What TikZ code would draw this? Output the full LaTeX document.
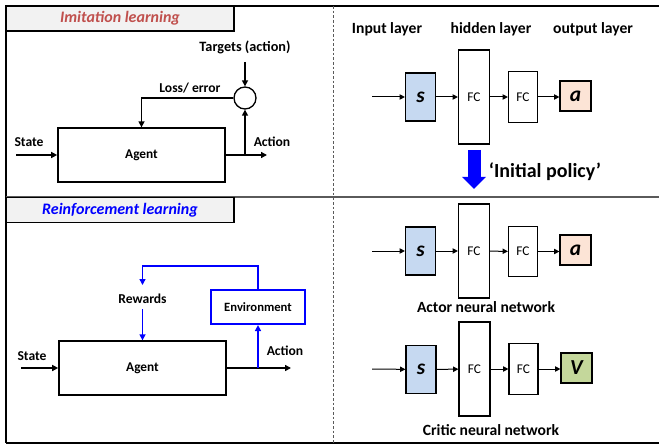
\documentclass[tikz,border=0pt]{standalone}
\usepackage{fontspec}
\setmainfont{Carlito}
\usetikzlibrary{arrows.meta}
\definecolor{sblue}{RGB}{198,217,241}
\definecolor{apeach}{RGB}{252,228,214}
\definecolor{vgreen}{RGB}{196,215,155}
\definecolor{titlered}{RGB}{192,80,77}
\definecolor{titlegray}{RGB}{242,242,242}
\definecolor{sepgray}{RGB}{90,90,90}

\begin{document}
\begin{tikzpicture}[x=0.75pt,y=-0.75pt,
  lbl/.style={font=\bfseries\fontsize{10.2}{12}\selectfont, inner sep=0pt},
  netlbl/.style={font=\bfseries\fontsize{11.7}{14}\selectfont, inner sep=0pt},
  titlebox/.style={draw, line width=1pt, fill=titlegray, minimum width=171pt, minimum height=18.75pt,
    font=\bfseries\itshape\fontsize{12}{14}\selectfont},
  agentbox/.style={draw, line width=1.5pt, minimum width=125pt, minimum height=40pt,
    font=\bfseries\fontsize{10}{12}\selectfont},
  envbox/.style={draw=blue, line width=1.6pt, minimum width=71pt, minimum height=25.5pt,
    font=\bfseries\fontsize{9.5}{11}\selectfont},
  sbox/.style={draw, line width=0.9pt, fill=sblue, minimum width=22.5pt, minimum height=36pt,
    font=\bfseries\itshape\fontsize{16}{18}\selectfont},
  fcbig/.style={draw, line width=0.9pt, minimum width=23.25pt, minimum height=70.5pt,
    font=\fontsize{10}{12}\selectfont},
  fcsmall/.style={draw, line width=0.9pt, minimum width=21.75pt, minimum height=38pt,
    font=\fontsize{10}{12}\selectfont},
  outbox/.style={draw, line width=0.9pt, minimum width=23.25pt, minimum height=22.5pt,
    font=\bfseries\itshape\fontsize{16}{18}\selectfont},
  arr/.style={-{Triangle[length=4.5pt,width=4.5pt]}, line width=1.1pt},
  arrblue/.style={arr, blue},
  arrthin/.style={-{Triangle[length=4pt,width=4pt]}, line width=0.75pt},
  bigarrow/.style={-{Triangle[length=9pt,width=17.5pt]}, line width=9.75pt, blue}]

  \useasboundingbox (0,0) rectangle (659,445);

  \draw[line width=1.1pt] (6,6) -- (659,6);
  \draw[line width=1.1pt] (6,6) -- (6,443);
  \draw[line width=1.1pt] (6,443) -- (659,443);
  \draw[line width=1.1pt, sepgray] (6,197) -- (659,197);
  \draw[sepgray, line width=0.7pt, dash pattern=on 2pt off 1.5pt] (333,6) -- (333,443);

  \node[titlebox, text=titlered] (iltitle) at (120,18.5) {Imitation learning};
  \node[titlebox, text=blue] (rltitle) at (120,210) {Reinforcement learning};

  % imitation learning loop
  \node[agentbox] (agentA) at (141.5,155) {Agent};
  \node[draw, circle, line width=1pt, minimum size=16.5pt, inner sep=0pt] (err) at (245,98) {};
  \node[lbl, font=\bfseries\fontsize{10.7}{12}\selectfont] (tgt) at (245,47) {Targets (action)};
  \node[lbl] (loss) at (190,88) {Loss/ error};
  \node[lbl] (stlblA) at (29,142) {State};
  \node[lbl] (actlblA) at (272,142) {Action};
  \coordinate (tgtend) at (245,62);
  \coordinate (stA) at (16,155);
  \coordinate (actA) at (267,155);
  \coordinate (jA) at (245,155);
  \draw[arr] (tgtend) -- (err);
  \draw[arr] (err) -| (agentA);
  \draw[arr] (stA) -- (agentA);
  \draw[arr] (agentA) -- (actA);
  \draw[arr] (jA) -- (err);

  % reinforcement learning loop
  \node[agentbox] (agentB) at (142.5,368) {Agent};
  \node[envbox] (env) at (258,307) {Environment};
  \node[lbl] (rw) at (142.5,299) {Rewards};
  \node[lbl] (stlblB) at (32,356) {State};
  \node[lbl] (actlblB) at (285,351) {Action};
  \coordinate (stB) at (21,368);
  \coordinate (actB) at (291,368);
  \coordinate (jB) at (258,368);
  \coordinate (loopB) at (142.5,266);
  \coordinate (rwtop) at (142.5,285);
  \draw[arr] (stB) -- (agentB);
  \draw[arr] (agentB) -- (actB);
  \draw[arrblue] (jB) -- (env);
  \draw[arrblue] (env) |- (loopB) -- (rwtop);
  \draw[arrblue] ([yshift=-4pt]rw.south) -- (agentB);

  % policy network
  \node[netlbl] (inlbl) at (387,29) {Input layer};
  \node[netlbl] (hidlbl) at (491,29) {hidden layer};
  \node[netlbl] (outlbl) at (593,29) {output layer};
  \coordinate (inA) at (372,97);
  \node[sbox] (sA) at (420.5,97) {s};
  \node[fcbig] (fcA1) at (474,97) {FC};
  \node[fcsmall] (fcA2) at (523,97) {FC};
  \node[outbox, fill=apeach] (oA) at (575.5,96) {a};
  \draw[arrthin] (inA) -- (sA);
  \draw[arrthin] (sA) -- (fcA1);
  \draw[arrthin] (fcA1) -- (fcA2);
  \draw[arrthin] (fcA2) -- (oA.west |- fcA2);

  \draw[bigarrow] ([yshift=-4pt]fcA1.south) -- ++(0,39);
  \node[font=\bfseries\fontsize{15}{17}\selectfont, inner sep=0pt] (init) at (545,172) {‘Initial policy’};

  % actor network
  \coordinate (inB) at (372,251);
  \node[sbox] (sB) at (420.5,251) {s};
  \node[fcbig] (fcB1) at (474,251) {FC};
  \node[fcsmall] (fcB2) at (523,251.5) {FC};
  \node[outbox, fill=apeach] (oB) at (575.5,250) {a};
  \draw[arrthin] (inB) -- (sB);
  \draw[arrthin] (sB) -- (fcB1);
  \draw[arrthin] (fcB1) -- (fcB2);
  \draw[arrthin] (fcB2) -- (oB.west |- fcB2);
  \node[netlbl] (actorlbl) at (486,307) {Actor neural network};

  % critic network
  \coordinate (inC) at (372,369);
  \node[sbox] (sC) at (421,369.5) {s};
  \node[fcbig] (fcC1) at (474.5,369) {FC};
  \node[fcsmall] (fcC2) at (523.5,369) {FC};
  \node[outbox, fill=vgreen] (oC) at (576.5,368) {V};
  \draw[arrthin] (inC) -- (sC);
  \draw[arrthin] (sC) -- (fcC1);
  \draw[arrthin] (fcC1) -- (fcC2);
  \draw[arrthin] (fcC2) -- (oC.west |- fcC2);
  \node[netlbl] (criticlbl) at (491,430) {Critic neural network};
\end{tikzpicture}
\end{document}
